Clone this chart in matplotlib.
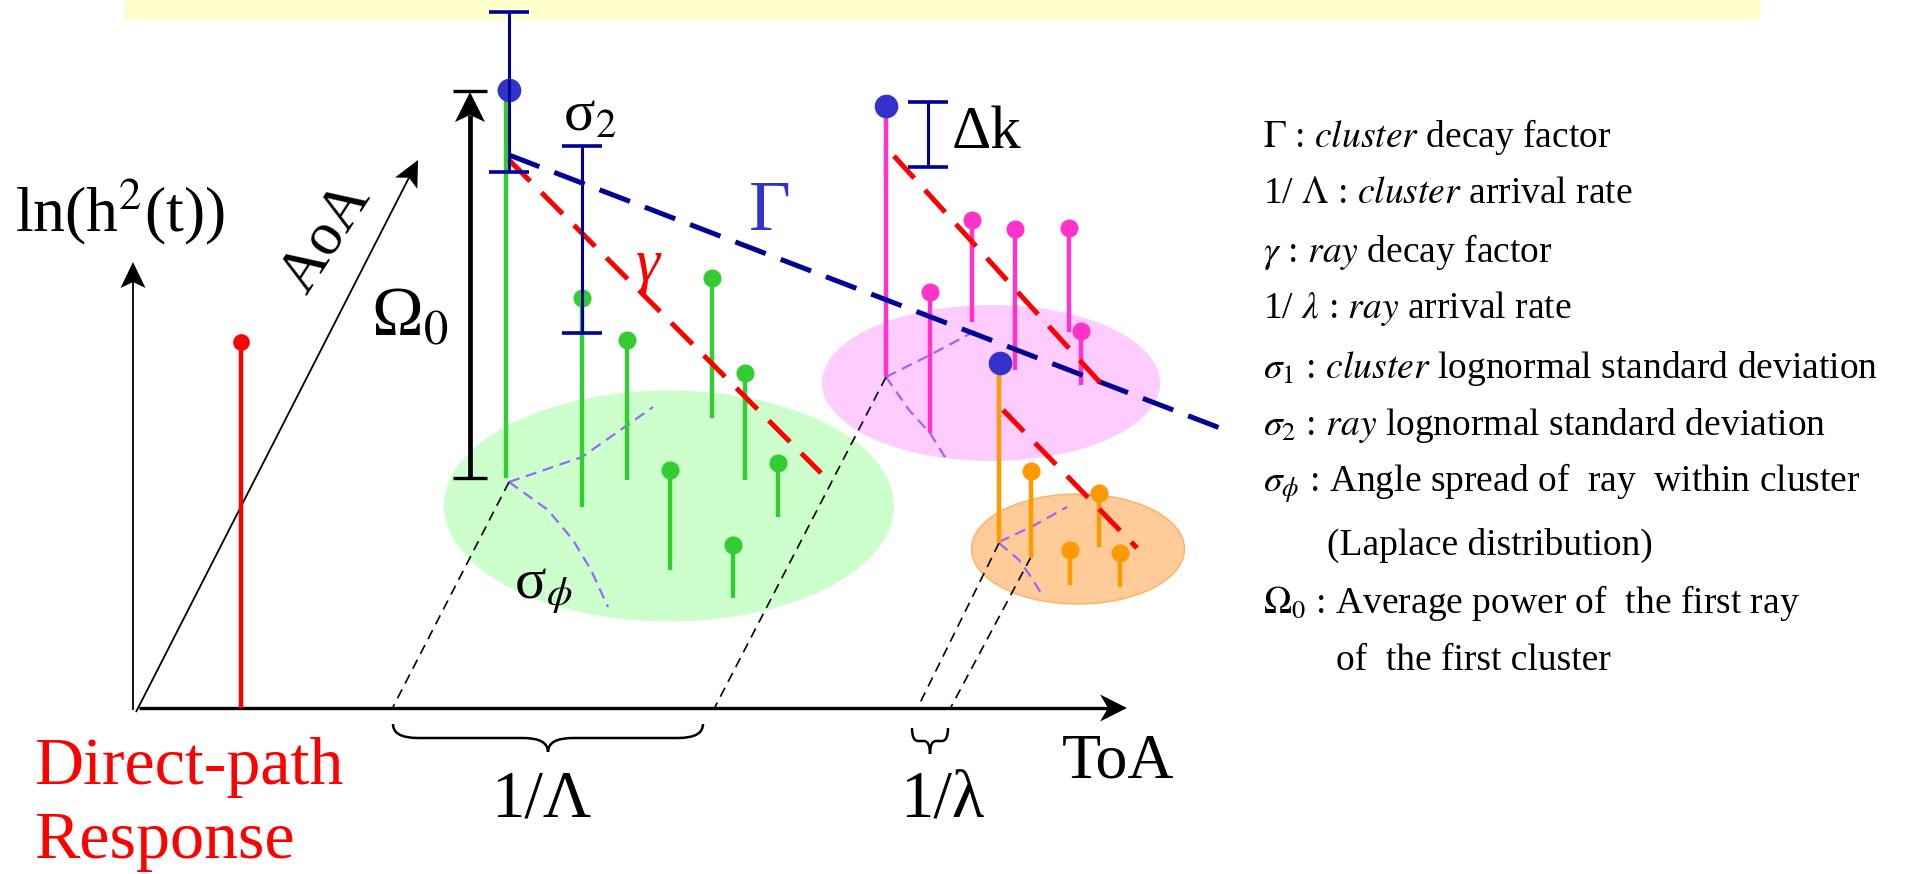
import numpy as np
import matplotlib.pyplot as plt
from matplotlib.patches import Ellipse, Rectangle, PathPatch, Polygon
from matplotlib.path import Path

plt.rcParams['font.family'] = ['Liberation Serif', 'DejaVu Serif']
plt.rcParams['mathtext.fontset'] = 'stix'

# everything is placed in the pixel space of the original slide (y grows down)
W, H = 1905, 874

# axes of the sketch
origin = (135, 708)
toa_tip = (1127, 708)
lnh_tip = (133, 262)
aoa_tip = (418, 160)

# direct path ray
direct_x = 241
direct_top = 342

# cluster 1 (green rays)
green_x = [506, 582, 627, 670, 712, 745, 733, 778]
green_top = [90, 298, 340, 470, 278, 373, 545, 463]
green_bottom = [478, 507, 480, 570, 418, 480, 598, 517]

# cluster 2 (pink rays)
pink_x = [886, 930, 972, 1015, 1069, 1081]
pink_top = [106, 292, 220, 229, 228, 331]
pink_bottom = [377, 433, 322, 370, 332, 385]

# cluster 3 (orange rays)
orange_x = [999, 1031, 1070, 1099, 1120]
orange_top = [363, 471, 550, 493, 553]
orange_bottom = [543, 558, 585, 547, 587]

# first ray of each cluster
first_x = [509, 886, 1000]
first_y = [90, 106, 363]

# cluster clouds
ell_cx = [669, 991, 1078]
ell_cy = [506, 383, 549]
ell_w = [450, 338, 213]
ell_h = [231, 156, 110]
ell_col = ['#ccffcc', '#ffccff', '#ffcc99']

# sigma error bars (sigma_1, sigma_2, delta k)
bar_x = [509, 582, 928]
bar_top = [12, 146, 102]
bar_bottom = [172, 333, 167]

# decay lines
cluster_decay = [(509, 155), (1233, 433)]
ray_decay = [[(509, 160), (821, 473)],
             [(894, 156), (1105, 388)],
             [(1003, 410), (1137, 548)]]

# projections down to the ToA axis
proj_top = [(509, 482), (886, 377), (999, 543), (1031, 557)]
proj_bot = [(393, 707), (715, 707), (918, 707), (951, 707)]

# angle spread sketches
spread_up = [[(509, 482), (582, 457), (653, 407)],
             [(886, 377), (930, 355), (977, 330)],
             [(999, 542), (1033, 526), (1067, 507)]]
spread_down = [[(509, 482), (548, 510), (573, 540), (591, 570), (608, 607)],
               [(886, 377), (909, 410), (930, 433), (948, 462)],
               [(999, 543), (1019, 560), (1031, 577), (1041, 593)]]

legend_lines = [
    r"$\Gamma$ : $\mathit{cluster}$ decay factor",
    r"1/ $\Lambda$ : $\mathit{cluster}$ arrival rate",
    r"$\gamma$ : $\mathit{ray}$ decay factor",
    r"1/ $\lambda$ : $\mathit{ray}$ arrival rate",
    r"$\sigma_1$ : $\mathit{cluster}$ lognormal standard deviation",
    r"$\sigma_2$ : $\mathit{ray}$ lognormal standard deviation",
    r"$\sigma_\phi$ : Angle spread of  ray  within cluster",
    "(Laplace distribution)",
    r"$\Omega_0$ : Average power of  the first ray",
    "of  the first cluster",
]
legend_x = [1263, 1263, 1263, 1263, 1263, 1263, 1263, 1327, 1263, 1336]
legend_y = [147, 203, 262, 318, 378, 435, 492, 555, 613, 670]

fig = plt.figure(figsize=(W / 100, H / 100), dpi=100)
ax = fig.add_axes([0, 0, 1, 1])
ax.set_xlim(0, W)
ax.set_ylim(H, 0)
ax.axis('off')


def stealth_arrow(tail, tip, lw, length, width, notch, z=3):
    # line with a concave filled arrow head
    tail = np.array(tail, float)
    tip = np.array(tip, float)
    u = (tip - tail) / np.hypot(*(tip - tail))
    n = np.array([-u[1], u[0]])
    back = tip - u * notch
    ax.plot([tail[0], back[0]], [tail[1], back[1]], color='k', lw=lw,
            solid_capstyle='butt', zorder=z)
    head = [tip, tip - u * length + n * width / 2, back, tip - u * length - n * width / 2]
    ax.add_patch(Polygon(head, closed=True, color='k', lw=0, zorder=z))


def brace(x0, x1, y0, rx, ry):
    xm = (x0 + x1) / 2
    verts = [(x0, y0), (x0, y0 + ry), (x0 + rx, y0 + ry), (xm - rx, y0 + ry),
             (xm, y0 + ry), (xm, y0 + 2 * ry),
             (xm, y0 + 2 * ry), (xm, y0 + ry), (xm + rx, y0 + ry), (x1 - rx, y0 + ry),
             (x1, y0 + ry), (x1, y0)]
    codes = [Path.MOVETO, Path.CURVE3, Path.CURVE3, Path.LINETO, Path.CURVE3, Path.CURVE3,
             Path.MOVETO, Path.CURVE3, Path.CURVE3, Path.LINETO, Path.CURVE3, Path.CURVE3]
    return PathPatch(Path(verts, codes), facecolor='none', edgecolor='k', lw=1.8)


# yellow title strip
ax.add_patch(Rectangle((125, 0), 1634, 19, color='#ffffcc', zorder=0))

for cx, cy, w, h, c in zip(ell_cx, ell_cy, ell_w, ell_h, ell_col):
    ec = '#ffb060' if c == '#ffcc99' else 'none'
    ax.add_patch(Ellipse((cx, cy), w, h, facecolor=c, edgecolor=ec, lw=1, zorder=1))

for up, down in zip(spread_up, spread_down):
    ax.plot([p[0] for p in up], [p[1] for p in up], color='#9966ff', lw=1.6,
            dashes=(5, 3), zorder=2)
    ax.plot([p[0] for p in down], [p[1] for p in down], color='#9966ff', lw=1.6,
            dashes=(5, 3), zorder=2)

for a, b in zip(proj_top, proj_bot):
    ax.plot([a[0], b[0]], [a[1], b[1]], color='k', lw=1.2, dashes=(6, 4), zorder=2)

# axes arrows
stealth_arrow((origin[0] + 4, origin[1]), toa_tip, 2.4, 27, 27, 19)
stealth_arrow((133, 710), lnh_tip, 1.3, 26, 25, 20)
stealth_arrow((136, 712), aoa_tip, 1.3, 26, 25, 20)

# direct path
ax.vlines(direct_x, direct_top, origin[1], color='#ff0000', lw=3.2, zorder=4)
ax.plot(direct_x, direct_top, 'o', color='#ff0000', ms=11, zorder=5)

# rays
ax.vlines(green_x, green_top, green_bottom, color='#33cc33', lw=3.2, zorder=4)
ax.plot(green_x, green_top, 'o', color='#33cc33', ms=12, lw=0, zorder=5)
ax.vlines(pink_x, pink_top, pink_bottom, color='#ff33cc', lw=3.2, zorder=4)
ax.plot(pink_x, pink_top, 'o', color='#ff33cc', ms=12, lw=0, zorder=5)
ax.vlines(orange_x, orange_top, orange_bottom, color='#ff9900', lw=3.2, zorder=4)
ax.plot(orange_x, orange_top, 'o', color='#ff9900', ms=12, lw=0, zorder=5)

# error bars
ax.plot(first_x, first_y, 'o', color='#3333cc', ms=16, lw=0, zorder=6)
ax.vlines(bar_x, bar_top, bar_bottom, color='#000099', lw=2.2, zorder=7)
ax.hlines(bar_top, [x - 20 for x in bar_x], [x + 20 for x in bar_x], color='#000099', lw=2.6, zorder=7)
ax.hlines(bar_bottom, [x - 20 for x in bar_x], [x + 20 for x in bar_x], color='#000099', lw=2.6, zorder=7)

# decay slopes
ax.plot([p[0] for p in cluster_decay], [p[1] for p in cluster_decay], color='#000099',
        lw=3.6, dashes=(6.5, 3.2), zorder=6)
for seg in ray_decay:
    ax.plot([p[0] for p in seg], [p[1] for p in seg], color='#ff0000', lw=3.6,
            dashes=(6, 3.2), zorder=6)

# Omega_0 span
stealth_arrow((470, 478), (470, 92), 3.4, 30, 30, 23, z=6)
ax.hlines([91, 478], 453, 487, color='k', lw=2.4, zorder=6)

ax.add_patch(brace(393, 703, 724, 25, 14))
ax.add_patch(brace(912, 948, 728, 6, 13))

# labels
ax.text(120, 212, r"ln(h$^2$(t))", fontsize=46, ha='center', va='center')
ax.text(326, 238, "AoA", fontsize=44, ha='center', va='center', rotation=57)
ax.text(410, 318, r"Ω$_0$", fontsize=50, ha='center', va='center')
ax.text(590, 116, r"σ$_2$", fontsize=42, ha='center', va='center')
ax.text(543, 590, r"σ$_\phi$", fontsize=42, ha='center', va='center')
ax.text(986, 133, "Δk", fontsize=44, ha='center', va='center')
ax.text(770, 212, "Γ", fontsize=52, ha='center', va='center', color='#3333cc')
ax.text(648, 266, "γ", fontsize=44, ha='center', va='center', color='#ff0000', style='italic')
ax.text(541, 800, "1/Λ", fontsize=48, ha='center', va='center')
ax.text(942, 800, "1/λ", fontsize=48, ha='center', va='center')
ax.text(1118, 762, "ToA", fontsize=46, ha='center', va='center')
ax.text(34, 768, "Direct-path", fontsize=49, ha='left', va='center', color='#ff0000')
ax.text(34, 841, "Response", fontsize=49, ha='left', va='center', color='#ff0000')

for s, x, y in zip(legend_lines, legend_x, legend_y):
    ax.text(x, y, s, fontsize=27, ha='left', va='baseline')

fig.savefig('out.png', dpi=100)
